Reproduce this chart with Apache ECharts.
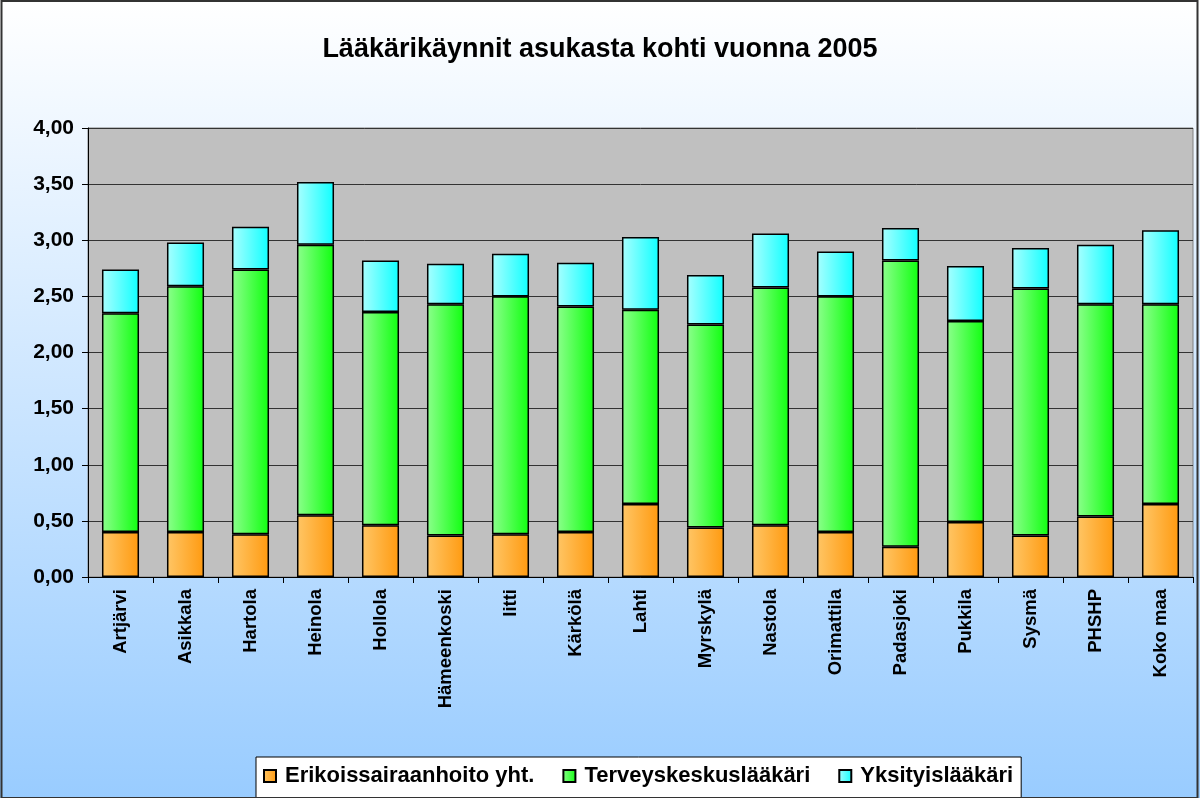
<!DOCTYPE html>
<html>
<head>
<meta charset="utf-8">
<script src="https://cdn.jsdelivr.net/npm/echarts@6/dist/echarts.min.js"></script>
<style>
  html, body { margin: 0; padding: 0; }
  #chart { width: 1200px; height: 798px; }
</style>
</head>
<body>
<div id="chart"></div>
<script>
// kunnat
const categories = ['Artjärvi', 'Asikkala', 'Hartola', 'Heinola', 'Hollola', 'Hämeenkoski', 'Iitti', 'Kärkölä',
  'Lahti', 'Myrskylä', 'Nastola', 'Orimattila', 'Padasjoki', 'Pukkila', 'Sysmä', 'PHSHP', 'Koko maa']

// käynnit / asukas
const erikoissairaanhoito = [0.40, 0.40, 0.38, 0.55, 0.46, 0.37, 0.38, 0.40, 0.65, 0.44, 0.46, 0.40, 0.27, 0.49, 0.37, 0.54, 0.65]
const terveyskeskus = [1.95, 2.19, 2.36, 2.41, 1.90, 2.06, 2.12, 2.01, 1.73, 1.81, 2.12, 2.10, 2.55, 1.79, 2.20, 1.89, 1.78]
const yksityinen = [0.39, 0.39, 0.38, 0.56, 0.46, 0.36, 0.38, 0.39, 0.65, 0.44, 0.48, 0.40, 0.29, 0.49, 0.36, 0.53, 0.66]

const seriesNames = ['Erikoissairaanhoito yht.', 'Terveyskeskuslääkäri', 'Yksityislääkäri']

const font = 'Arial'

function grad(c1, c2) {
  return new echarts.graphic.LinearGradient(0, 0, 1, 0, [
    { offset: 0, color: c1 },
    { offset: 1, color: c2 }
  ])
}

function bar(name, data, c1, c2) {
  return {
    name: name,
    type: 'bar',
    stack: 'total',
    data: data,
    barWidth: '57%',
    itemStyle: { color: grad(c1, c2), borderColor: '#000', borderWidth: 1.5 },
    emphasis: { disabled: true }
  }
}

let myChart = echarts.init(document.getElementById('chart'))

myChart.setOption({
  animation: false,
  backgroundColor: new echarts.graphic.LinearGradient(0, 0, 0, 1, [
    { offset: 0, color: '#ffffff' },
    { offset: 1, color: '#99ccff' }
  ]),
  // kehys koko kaavion ympärillä
  graphic: [{
    type: 'rect',
    shape: { x: 1.5, y: 1, width: 1196, height: 797 },
    style: { fill: null, stroke: '#333', lineWidth: 2 },
    silent: true,
    z: 100
  }],
  title: {
    text: 'Lääkärikäynnit asukasta kohti vuonna 2005',
    left: 'center',
    top: 31,
    textStyle: { fontFamily: font, fontWeight: 'bold', fontSize: 27, color: '#000' }
  },
  legend: {
    left: 256,
    top: 757,
    itemWidth: 12,
    itemHeight: 12,
    itemGap: 28,
    icon: 'rect',
    padding: [8, 8, 20, 7],
    backgroundColor: '#fff',
    borderColor: '#000',
    borderWidth: 1,
    textStyle: { fontFamily: font, fontWeight: 'bold', fontSize: 22, color: '#000', padding: [0, 0, 0, 4] },
    data: seriesNames
  },
  grid: {
    left: 88,
    right: 7,
    top: 128,
    bottom: 221,
    show: true,
    backgroundColor: '#c0c0c0',
    borderColor: '#808080',
    borderWidth: 1
  },
  xAxis: {
    type: 'category',
    data: categories,
    axisLine: { lineStyle: { color: '#000', width: 1 } },
    axisTick: { show: true, length: 6, lineStyle: { color: '#000' } },
    axisLabel: {
      rotate: 90,
      margin: 12,
      interval: 0,
      fontFamily: font,
      fontWeight: 'bold',
      fontSize: 18.5,
      color: '#000'
    }
  },
  yAxis: {
    type: 'value',
    min: 0,
    max: 4,
    interval: 0.5,
    axisLine: { show: true, lineStyle: { color: '#000', width: 1 } },
    axisTick: { show: true, length: 6, lineStyle: { color: '#000' } },
    splitLine: { lineStyle: { color: '#333', width: 1 } },
    axisLabel: {
      margin: 14,
      fontFamily: font,
      fontWeight: 'bold',
      fontSize: 21,
      color: '#000',
      formatter: v => v.toFixed(2).replace('.', ',')
    }
  },
  series: [
    bar(seriesNames[0], erikoissairaanhoito, '#ffc666', '#ff9a10'),
    bar(seriesNames[1], terveyskeskus, '#8cff8c', '#10ff10'),
    bar(seriesNames[2], yksityinen, '#a8ffff', '#10ffff')
  ]
})
</script>
</body>
</html>
